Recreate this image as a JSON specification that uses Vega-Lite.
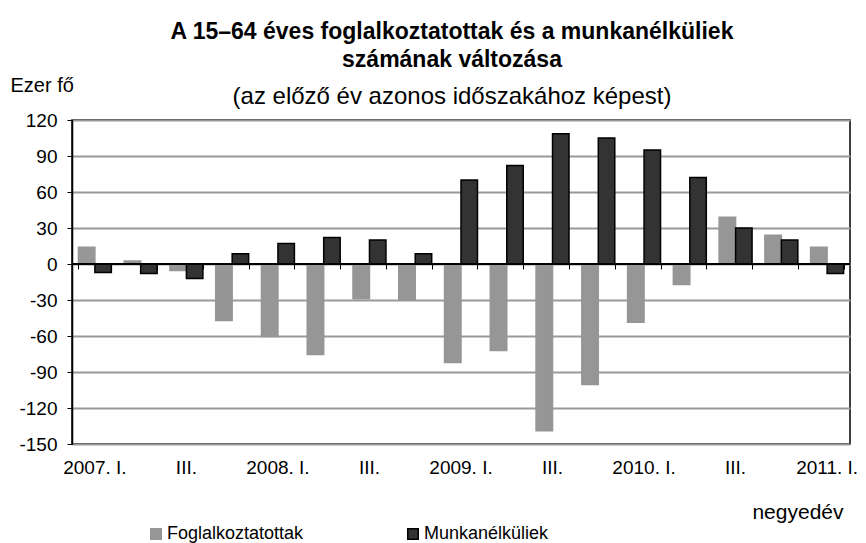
{
  "$schema": "https://vega.github.io/schema/vega-lite/v6.json",
  "width": 778,
  "height": 324,
  "autosize": "none",
  "padding": {"left": 72, "top": 120, "right": 16, "bottom": 99},
  "background": "white",
  "config": {
    "font": "Liberation Sans",
    "view": {"stroke": "#000000", "strokeWidth": 1.5}
  },
  "title": {
    "text": ["A 15–64 éves foglalkoztatottak és a munkanélküliek", "számának változása"],
    "subtitle": "(az előző év azonos időszakához képest)",
    "anchor": "middle",
    "frame": "group",
    "dx": -9,
    "dy": 48,
    "fontSize": 23,
    "fontWeight": "bold",
    "lineHeight": 28,
    "color": "#000000",
    "subtitleFontSize": 24,
    "subtitleColor": "#000000",
    "subtitlePadding": 13,
    "offset": 14
  },
  "data": {
    "values": [
      {"q": "2007. I.", "series": "Foglalkoztatottak", "v": 14},
      {"q": "2007. I.", "series": "Munkanélküliek", "v": -7},
      {"q": "2007. II.", "series": "Foglalkoztatottak", "v": 2.5},
      {"q": "2007. II.", "series": "Munkanélküliek", "v": -8},
      {"q": "2007. III.", "series": "Foglalkoztatottak", "v": -5.5},
      {"q": "2007. III.", "series": "Munkanélküliek", "v": -12},
      {"q": "2007. IV.", "series": "Foglalkoztatottak", "v": -47},
      {"q": "2007. IV.", "series": "Munkanélküliek", "v": 8.6},
      {"q": "2008. I.", "series": "Foglalkoztatottak", "v": -60.5},
      {"q": "2008. I.", "series": "Munkanélküliek", "v": 17},
      {"q": "2008. II.", "series": "Foglalkoztatottak", "v": -75.5},
      {"q": "2008. II.", "series": "Munkanélküliek", "v": 22},
      {"q": "2008. III.", "series": "Foglalkoztatottak", "v": -29},
      {"q": "2008. III.", "series": "Munkanélküliek", "v": 20},
      {"q": "2008. IV.", "series": "Foglalkoztatottak", "v": -30},
      {"q": "2008. IV.", "series": "Munkanélküliek", "v": 8.6},
      {"q": "2009. I.", "series": "Foglalkoztatottak", "v": -82},
      {"q": "2009. I.", "series": "Munkanélküliek", "v": 70},
      {"q": "2009. II.", "series": "Foglalkoztatottak", "v": -72},
      {"q": "2009. II.", "series": "Munkanélküliek", "v": 82},
      {"q": "2009. III.", "series": "Foglalkoztatottak", "v": -139},
      {"q": "2009. III.", "series": "Munkanélküliek", "v": 108.5},
      {"q": "2009. IV.", "series": "Foglalkoztatottak", "v": -100.5},
      {"q": "2009. IV.", "series": "Munkanélküliek", "v": 105},
      {"q": "2010. I.", "series": "Foglalkoztatottak", "v": -48.5},
      {"q": "2010. I.", "series": "Munkanélküliek", "v": 95},
      {"q": "2010. II.", "series": "Foglalkoztatottak", "v": -17},
      {"q": "2010. II.", "series": "Munkanélküliek", "v": 72},
      {"q": "2010. III.", "series": "Foglalkoztatottak", "v": 39},
      {"q": "2010. III.", "series": "Munkanélküliek", "v": 30},
      {"q": "2010. IV.", "series": "Foglalkoztatottak", "v": 24},
      {"q": "2010. IV.", "series": "Munkanélküliek", "v": 20},
      {"q": "2011. I.", "series": "Foglalkoztatottak", "v": 14},
      {"q": "2011. I.", "series": "Munkanélküliek", "v": -8}
    ]
  },
  "resolve": {"axis": {"x": "independent"}},
  "layer": [
    {
      "mark": {"type": "bar", "strokeWidth": 1.5},
      "encoding": {
        "x": {
          "field": "q",
          "type": "ordinal",
          "sort": null,
          "scale": {"paddingInner": 0.28, "paddingOuter": 0.14},
          "axis": {
            "orient": "bottom",
            "offset": -180,
            "labels": false,
            "domain": false,
            "ticks": true,
            "tickBand": "extent",
            "tickSize": 5,
            "tickColor": "#000000",
            "tickWidth": 1,
            "grid": false,
            "title": null
          }
        },
        "xOffset": {"field": "series", "type": "nominal", "scale": {"paddingInner": 0}},
        "y": {
          "field": "v",
          "type": "quantitative",
          "scale": {"domain": [-150, 120], "nice": false, "zero": false},
          "axis": {
            "values": [-150, -120, -90, -60, -30, 0, 30, 60, 90, 120],
            "tickCount": 20,
            "labelExpr": "'' + datum.value",
            "labelOverlap": false,
            "title": "Ezer fő",
            "titleAngle": 0,
            "titleX": -62,
            "titleY": -35,
            "titleAlign": "left",
            "titleBaseline": "middle",
            "titleFontSize": 20,
            "titleFontWeight": "normal",
            "titleColor": "#000000",
            "labelFontSize": 19,
            "labelColor": "#000000",
            "labelPadding": 10,
            "tickSize": 5,
            "tickColor": "#000000",
            "domainColor": "#000000",
            "domainWidth": 1.5,
            "gridColor": "#999999",
            "gridWidth": 2
          }
        },
        "fill": {
          "field": "series",
          "type": "nominal",
          "scale": {"domain": ["Foglalkoztatottak", "Munkanélküliek"], "range": ["#969696", "#333333"]},
          "legend": {
            "title": null,
            "orient": "none",
            "direction": "horizontal",
            "legendX": 75,
            "legendY": 405,
            "symbolType": "square",
            "symbolSize": 110,
            "symbolStrokeWidth": 1.5,
            "labelFontSize": 18,
            "labelColor": "#000000",
            "labelOffset": 2,
            "columnPadding": 100
          }
        },
        "stroke": {
          "field": "series",
          "type": "nominal",
          "scale": {"domain": ["Foglalkoztatottak", "Munkanélküliek"], "range": ["#969696", "#000000"]},
          "legend": null
        }
      }
    },
    {
      "mark": {"type": "rule", "color": "#000000", "strokeWidth": 1.5},
      "encoding": {"y": {"datum": 0, "type": "quantitative"}}
    },
    {
      "mark": {"type": "text", "text": ""},
      "encoding": {
        "x": {
          "field": "q",
          "type": "ordinal",
          "sort": null,
          "axis": {
            "orient": "bottom",
            "domain": false,
            "ticks": false,
            "grid": false,
            "labelAngle": 0,
            "labelFontSize": 19,
            "labelColor": "#000000",
            "labelPadding": 14,
            "labelOverlap": false,
            "labelExpr": "indexof(datum.value, 'III.') >= 0 ? 'III.' : ((indexof(datum.value, 'II.') >= 0 || indexof(datum.value, 'IV.') >= 0) ? '' : datum.value)",
            "title": "negyedév",
            "titleFontSize": 21,
            "titleFontWeight": "normal",
            "titleColor": "#000000",
            "titleAlign": "right",
            "titleX": 771,
            "titleY": 57
          }
        },
        "y": {"datum": 0, "type": "quantitative"}
      }
    }
  ]
}
